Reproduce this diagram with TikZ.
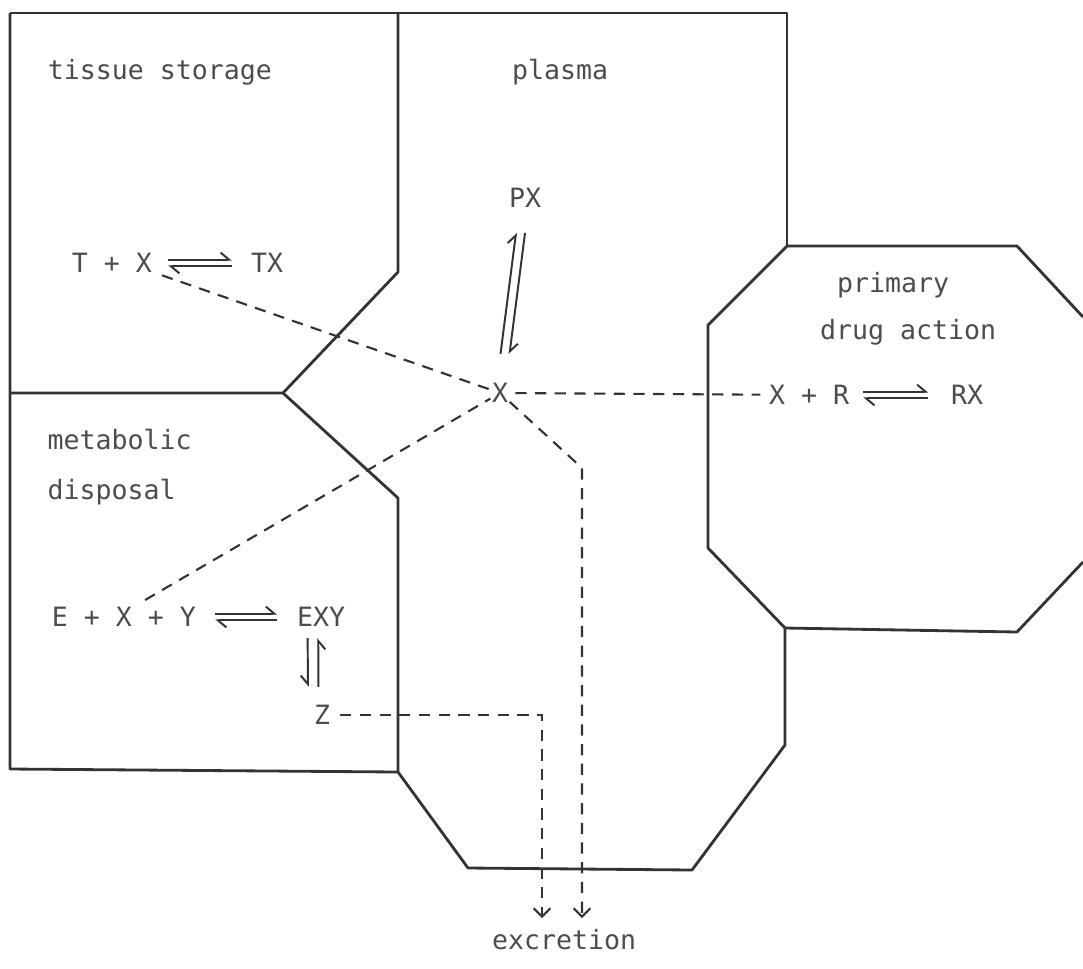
\documentclass[tikz,border=0pt]{standalone}
\usepackage{fontspec}
\setmonofont{DejaVu Sans Mono}
\usetikzlibrary{arrows.meta, positioning}
\definecolor{ink}{gray}{0.2}
\definecolor{pen}{gray}{0.3}

\begin{document}
\begin{tikzpicture}[x=0.025cm, y=-0.025cm,
   wall/.style={draw=ink, line width=2pt, line join=round},
   flow/.style={draw=ink, line width=1.5pt, dash pattern=on 8pt off 6pt},
   tag/.style={text=pen, font=\ttfamily\fontsize{18.9}{22}\selectfont, inner sep=1pt},
   chem/.style={draw=ink, line width=1.4pt},
   hl/.style={-{Straight Barb[left, length=6pt, width=10pt]}},
   hr/.style={-{Straight Barb[right, length=6pt, width=10pt]}},
   exit/.style={-{Straight Barb[length=6pt, width=12pt]}}]
  \useasboundingbox (0,0) rectangle (1083,968);

  % compartments
  \draw[wall] (10,13) -- (787,13) -- (787,246);
  \draw[wall] (398,13) -- (398,272) -- (283,393) -- (10,393);
  \draw[wall] (10,13) -- (10,769) -- (398,772);
  \draw[wall] (283,393) -- (398,498) -- (398,772) -- (468,868) -- (692,870)
              -- (785,745) -- (785,628);
  \draw[wall] (1083,317) -- (1017,246) -- (787,246) -- (708,325) -- (708,548)
              -- (785,628) -- (1017,632) -- (1083,562);

  % compartment names
  \node[tag] (ts) at (160,72) {tissue storage};
  \node[tag] (pl) at (560,72) {plasma};
  \node[tag] (pr) at (893,285) {primary};
  \node[tag] (da) at (908,332) {drug action};
  \node[tag, anchor=west] (mb) at (46,440) {metabolic};
  \node[tag, anchor=west] (dp) at (46,492) {disposal};
  \node[tag] (exc) at (564,940) {excretion};

  % species
  \node[tag] (tx) at (112,263) {T + X};   \node[tag] (tbx) at (267,263) {TX};
  \node[tag] (px) at (525,198) {PX};      \node[tag] (xp) at (500,393) {X};
  \node[tag] (xr) at (809,395) {X + R};   \node[tag] (rx) at (967,395) {RX};
  \node[tag] (exy) at (124,617) {E + X + Y}; \node[tag] (cx) at (321,617) {EXY};
  \node[tag] (zz) at (322,715) {Z};

  % equilibria
  \foreach \a/\b/\s/\t in {tx/tbx/10.4pt/12.5pt, xr/rx/9pt/15pt, exy/cx/12.5pt/13pt} {
     \draw[chem, hl, shorten <=\s, shorten >=\t] ([yshift=2.4pt]\a.east) -- ([yshift=2.4pt]\b.west);
     \draw[chem, hl, shorten <=\t, shorten >=\s] ([yshift=-2.4pt]\b.west) -- ([yshift=-2.4pt]\a.east);
  }
  \draw[chem, hl, shorten <=28pt, shorten >=25pt] ([xshift=-3.2pt]xp.center) -- ([xshift=-3.2pt]px.center);
  \draw[chem, hl, shorten <=25pt, shorten >=28pt] ([xshift=3.2pt]px.center) -- ([xshift=3.2pt]xp.center);
  \draw[chem, hr, shorten <=7pt, shorten >=12pt] ([xshift=-9.5pt]cx.south) -- ([xshift=-10pt]zz.north);
  \draw[chem, hr, shorten <=12pt, shorten >=7pt] ([xshift=-2.5pt]zz.north) -- ([xshift=-2pt]cx.south);

  % transport paths
  \coordinate (k1) at (582,468);
  \coordinate (k2) at (542,715);
  \draw[flow, shorten <=2pt] ([xshift=4pt]tx.south east) -- (xp);
  \draw[flow] ([shift={(15pt,4pt)}]exy.north) -- (xp);
  \draw[flow, shorten <=4pt, shorten >=5pt] (xp) -- (xr);
  \draw[flow, exit, shorten >=7pt] (xp) -- (k1) -- (k1 |- exc.north);
  \draw[flow, exit, shorten <=6pt, shorten >=7pt] (zz) -- (k2) -- (k2 |- exc.north);
\end{tikzpicture}
\end{document}
